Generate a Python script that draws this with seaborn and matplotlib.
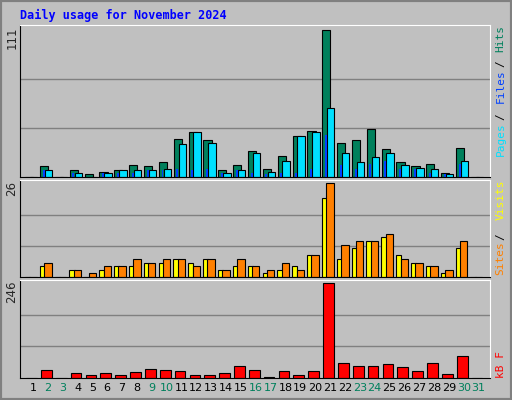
import numpy as np
import matplotlib
matplotlib.use("Agg")
import matplotlib.pyplot as plt
import seaborn as sns
from matplotlib.patches import Rectangle

days = list(range(1, 32))
hits = [0, 8, 0, 5, 2, 4, 5, 9, 8, 11, 29, 34, 28, 5, 9, 20, 6, 16, 31, 35,
        111, 26, 28, 36, 21, 11, 8, 10, 3, 22, 0]
files = [0, 5, 0, 3, 0, 3, 5, 5, 5, 6, 25, 34, 26, 3, 5, 18, 4, 12, 31, 34,
         52, 18, 11, 15, 18, 9, 7, 6, 2, 12, 0]
pages = [0, 5, 0, 3, 0, 3, 3, 3, 5, 5, 6, 5, 6, 3, 5, 3, 2, 3, 3, 6,
         32, 9, 6, 10, 12, 6, 6, 3, 2, 10, 0]
visits = [0, 3, 0, 2, 0, 2, 3, 3, 4, 4, 5, 4, 5, 2, 3, 3, 1, 2, 3, 6,
          22, 5, 8, 10, 11, 6, 4, 3, 1, 8, 0]
sites = [0, 4, 0, 2, 1, 3, 3, 5, 4, 5, 5, 3, 5, 2, 5, 3, 2, 4, 2, 6,
         26, 9, 10, 10, 12, 5, 4, 3, 2, 10, 0]
kbytes = [0, 21, 0, 13, 7, 13, 7, 15, 23, 21, 18, 7, 7, 13, 31, 21, 3, 18, 7, 18,
          246, 40, 31, 31, 37, 29, 18, 40, 10, 56, 0]
weekend = [2, 3, 9, 10, 16, 17, 23, 24, 30, 31]

sns.set_style("white")
plt.rcParams["font.family"] = ["DejaVu Sans"]

fig = plt.figure(figsize=(5.12, 4.0), dpi=100)
fig.patch.set_facecolor("#C0C0C0")
fig.add_artist(Rectangle((0, 0), 1, 1, transform=fig.transFigure, fill=False,
                         edgecolor="#808080", linewidth=3))

x = np.array(days)
xl = (0.125, 31.77)
panels = [
    (0.5575, 0.38, 111),
    (0.3075, 0.2425, 26),
    (0.055, 0.245, 246),
]
axes = []
for bottom, h, mx in panels:
    ax = fig.add_axes([0.039, bottom, 0.918, h])
    ax.set_facecolor("#C0C0C0")
    ax.set_xlim(*xl)
    ax.set_ylim(0, mx * 1.035)
    for f in (1 / 3, 2 / 3):
        ax.axhline(mx * f, color="#808080", linewidth=1, zorder=0)
    ax.set_xticks([])
    ax.set_yticks([])
    for s in ax.spines.values():
        s.set_color("black")
    ax.spines["top"].set_color("white")
    ax.spines["right"].set_color("white")
    ax.text(-0.003, 0.99, str(mx), transform=ax.transAxes, rotation=90,
            ha="right", va="top", fontsize=8.5)
    axes.append(ax)

ax1, ax2, ax3 = axes
kw = dict(edgecolor="black", linewidth=0.8)
ax1.bar(x - 0.25, hits, width=0.55, color="#00805C", **kw)
ax1.bar(x + 0.05, files, width=0.5, color="#00E0FF", **kw)
ax1.bar(x - 0.28, pages, width=0.13, color="#0040FF", linewidth=0)
ax2.bar(x - 0.37, visits, width=0.35, color="#FFFF00", **kw)
ax2.bar(x, sites, width=0.5, color="#FF8000", **kw)
ax3.bar(x - 0.1, kbytes, width=0.72, color="#FF0000", **kw)

fig.text(0.039, 0.962, "Daily usage for November 2024", color="#0000FF",
         family="DejaVu Sans Mono", fontweight="bold", fontsize=8.5, va="center")

for d in days:
    ax3.text(d, -0.1, str(d), transform=ax3.get_xaxis_transform(), ha="center",
             va="center", fontsize=8,
             color="#00805C" if d in weekend else "black")

def side_label(ax, parts, y_top):
    y = y_top
    for txt, col in parts:
        ax.text(1.012, y, txt, transform=ax.transAxes, rotation=90,
                ha="left", va="top", fontsize=8, color=col,
                family="DejaVu Sans Mono")
        y -= len(txt) * 0.058 * (0.38 / ax.get_position().height)

side_label(ax1, [("Hits", "#00805C"), ("/", "black"), ("Files", "#0040FF"),
                 ("/", "black"), ("Pages", "#00E0FF")], 1.0)
side_label(ax2, [("Visits", "#FFFF00"), ("/", "black"), ("Sites", "#FF8000")], 1.0)
ax3.text(1.012, 0.0, "kB F", transform=ax3.transAxes, rotation=90, ha="left",
         va="bottom", fontsize=8, color="#FF0000", family="DejaVu Sans Mono")

fig.savefig("out.png", dpi=100, facecolor=fig.get_facecolor())
